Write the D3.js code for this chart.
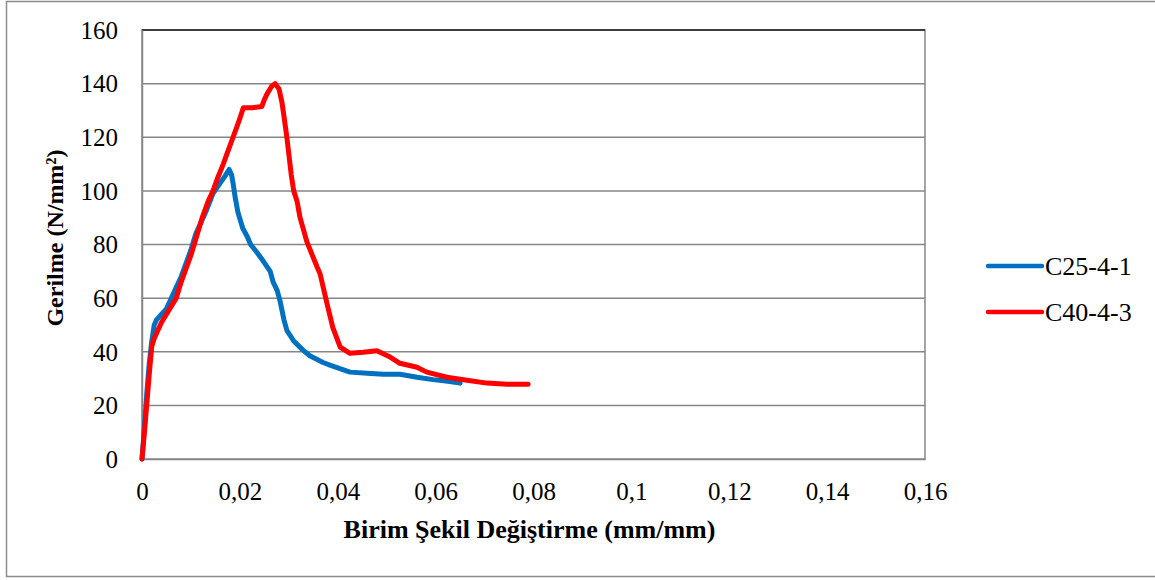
<!DOCTYPE html>
<html>
<head>
<meta charset="utf-8">
<script src="https://cdn.jsdelivr.net/npm/d3@7"></script>
<style>
  html, body { margin: 0; padding: 0; background: #fff; }
  svg { display: block; }
  text { font-family: "Liberation Serif", "Times New Roman", serif; fill: #000; }
</style>
</head>
<body>
<svg id="chart" width="1155" height="580"></svg>
<script>
// Stress–strain curves for two concrete specimens
const seriesNames = ["C25-4-1", "C40-4-3"];
const seriesColors = ["#0070C0", "#FF0000"];

// [strain (mm/mm), stress (N/mm²)]
const c25_4_1 = [
  [0,0],[0.0005,12],[0.001,25],[0.0015,36],[0.002,44],[0.0025,50],[0.003,52],
  [0.004,54],[0.005,56],[0.006,60],[0.007,64],[0.008,68],[0.009,73],[0.010,78],
  [0.011,84],[0.012,88],[0.013,92],[0.0145,99],[0.016,103],[0.017,105.6],
  [0.0178,108],[0.0183,106],[0.0186,103],[0.019,98],[0.0196,92],[0.0206,86],
  [0.0215,83],[0.0222,80],[0.0235,77],[0.0247,74],[0.0262,70],[0.0268,66],
  [0.0276,63],[0.0282,59],[0.029,52],[0.0296,48],[0.031,44],[0.0329,40.6],
  [0.0343,38.5],[0.037,36],[0.0384,35],[0.0425,32.4],[0.046,32],[0.0493,31.6],
  [0.0527,31.6],[0.0562,30.5],[0.0595,29.6],[0.0625,29],[0.065,28.3]
];
const c40_4_3 = [
  [0,0],[0.0005,10],[0.001,21],[0.0015,32],[0.002,42],[0.0025,45],[0.003,47],
  [0.004,51],[0.005,54],[0.006,57],[0.007,60],[0.008,66],[0.009,71],[0.010,76],
  [0.011,82],[0.0123,90],[0.0135,96],[0.0145,100],[0.0155,105],[0.0166,110],
  [0.0176,115],[0.0186,120],[0.0194,124],[0.02,127],[0.0207,131],[0.0225,131],
  [0.0245,131.5],[0.025,134],[0.0255,136],[0.0265,139],[0.0272,140],[0.028,138],
  [0.0286,133],[0.029,128],[0.0296,120],[0.0305,106],[0.031,100],[0.0317,96],
  [0.0323,90],[0.0337,81],[0.0358,71.5],[0.0364,69],[0.0378,58],[0.039,49],
  [0.0405,41.7],[0.0425,39.4],[0.0452,39.8],[0.048,40.4],[0.0507,38],
  [0.0527,35.7],[0.0562,34.2],[0.0582,32.4],[0.0623,30.5],[0.0664,29.4],
  [0.0705,28.3],[0.0746,27.9],[0.0789,27.9]
];
const seriesData = [c25_4_1, c40_4_3];

const xTicks = [0, 0.02, 0.04, 0.06, 0.08, 0.1, 0.12, 0.14, 0.16];
const yTicks = [0, 20, 40, 60, 80, 100, 120, 140, 160];
const xTitle = "Birim Şekil Değiştirme (mm/mm)";
const yTitle = "Gerilme (N/mm²)";

const serif = "'Liberation Serif', 'Times New Roman', serif";
const svg = d3.select("#chart");
const plot = { left: 142, top: 30, right: 925, bottom: 459 };

// outer chart frame
svg.append("rect")
  .attr("x", 6.5).attr("y", 1.5)
  .attr("width", 1160).attr("height", 575)
  .attr("fill", "#fff").attr("stroke", "#8c8c8c").attr("stroke-width", 1.5);

const x = d3.scaleLinear().domain([0, 0.16]).range([plot.left, plot.right]);
const y = d3.scaleLinear().domain([0, 160]).range([plot.bottom, plot.top]);

// horizontal gridlines
svg.append("g")
  .selectAll("line")
  .data(yTicks.filter(v => v > 0))
  .join("line")
  .attr("x1", plot.left).attr("x2", plot.right)
  .attr("y1", d => y(d)).attr("y2", d => y(d))
  .attr("stroke", "#868686").attr("stroke-width", 1.5);

// plot area frame
svg.append("rect")
  .attr("x", plot.left).attr("y", plot.top)
  .attr("width", plot.right - plot.left).attr("height", plot.bottom - plot.top)
  .attr("fill", "none").attr("stroke", "#868686").attr("stroke-width", 1.5);
svg.append("line")
  .attr("x1", plot.left).attr("x2", plot.right)
  .attr("y1", plot.top).attr("y2", plot.top)
  .attr("stroke", "#222").attr("stroke-width", 1.5);

// axes
const yAxis = d3.axisLeft(y).tickValues(yTicks).tickSize(0).tickPadding(24)
  .tickFormat(d3.format("d"));
const gy = svg.append("g").attr("transform", `translate(${plot.left},0)`).call(yAxis);
gy.select(".domain").attr("stroke", "#868686").attr("stroke-width", 1.5);
gy.selectAll("text").style("font-size", "25px")
  .style("font-family", serif).attr("dy", "0.33em");

const fmtX = d => d === 0 ? "0" : d3.format(".2~f")(d).replace(".", ",");
const xAxis = d3.axisBottom(x).tickValues(xTicks).tickSize(0).tickPadding(23)
  .tickFormat(fmtX);
const gx = svg.append("g").attr("transform", `translate(0,${plot.bottom})`).call(xAxis);
gx.select(".domain").attr("stroke", "#868686").attr("stroke-width", 1.5);
gx.selectAll("text").style("font-size", "25px")
  .style("font-family", serif);

// axis titles
svg.append("text")
  .attr("x", (plot.left + plot.right) / 2 - 4).attr("y", 538)
  .attr("text-anchor", "middle")
  .style("font-family", serif)
  .style("font-size", "26px").style("font-weight", "bold")
  .text(xTitle);
svg.append("text")
  .attr("transform", "translate(63,238) rotate(-90)")
  .attr("text-anchor", "middle")
  .style("font-family", serif)
  .style("font-size", "24px").style("font-weight", "bold")
  .text(yTitle);

// curves
const line = d3.line().x(d => x(d[0])).y(d => y(d[1]));
svg.append("g")
  .selectAll("path")
  .data(seriesData)
  .join("path")
  .attr("d", line)
  .attr("fill", "none")
  .attr("stroke", (d, i) => seriesColors[i])
  .attr("stroke-width", 5)
  .attr("stroke-linejoin", "round")
  .attr("stroke-linecap", "round");

// legend
const legend = svg.append("g").selectAll("g")
  .data(seriesNames)
  .join("g")
  .attr("transform", (d, i) => `translate(988,${266 + i * 46})`);
legend.append("line")
  .attr("x1", 0).attr("x2", 54)
  .attr("stroke", (d, i) => seriesColors[i])
  .attr("stroke-width", 4.5).attr("stroke-linecap", "round");
legend.append("text")
  .attr("x", 57).attr("dy", "0.35em")
  .style("font-family", serif)
  .style("font-size", "26px")
  .text(d => d);
</script>
</body>
</html>
